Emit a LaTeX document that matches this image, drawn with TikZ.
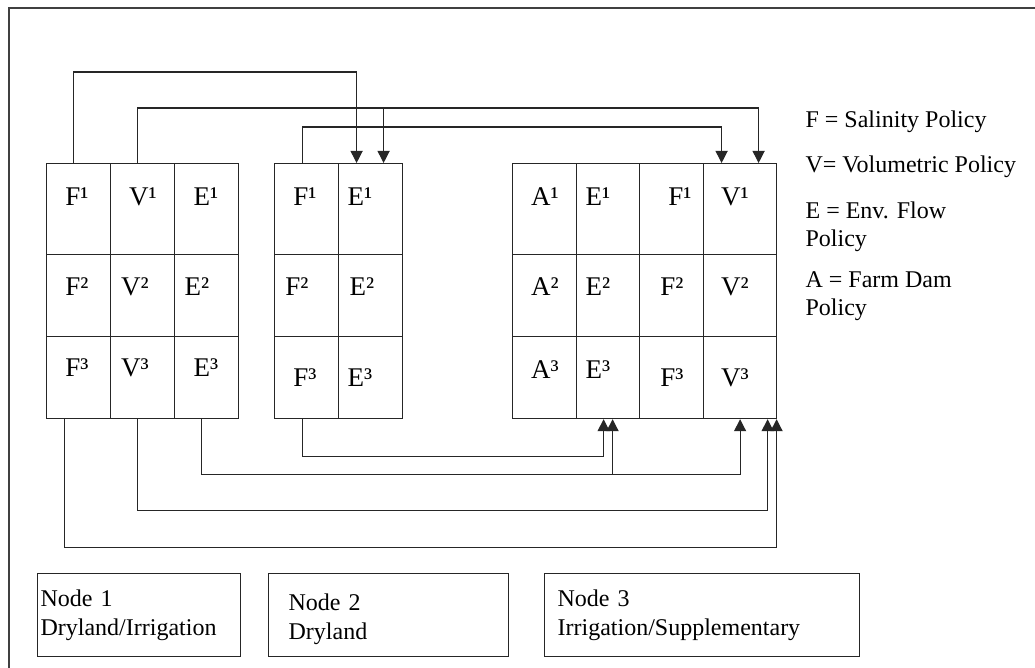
\documentclass[tikz,border=0pt]{standalone}
\usepackage{fontspec}
\setmainfont{Liberation Serif}
\usetikzlibrary{arrows.meta,calc}

\begin{document}
\begin{tikzpicture}[x=0.5pt,y=-0.5pt,line width=0.6pt,
  cell/.style 2 args={draw=black!85,anchor=north west,inner sep=0pt,
    minimum width=#1*0.5pt,minimum height=#2*0.5pt},
  tag/.style={inner sep=0pt,font=\fontsize{13.5}{16}\selectfont},
  key/.style={anchor=west,align=left,inner sep=0pt,font=\fontsize{12}{14}\selectfont},
  site/.style n args={3}{draw=black!85,anchor=north west,minimum width=#1*0.5pt,
    minimum height=83*0.5pt,inner xsep=#2,text width=#3,align=left,
    font=\fontsize{12}{14.5}\selectfont},
  flow/.style={draw=black!85,-{Triangle[width=6pt,length=6pt]}}]
  \useasboundingbox (0,0) rectangle (1035,668);
  \draw[black!75] (1035,8) -- (9,8) -- (9,668);

  % node 1 (three policies)
  \foreach \c/\x in {a/46,b/110,c/174}
    \foreach \r/\y/\h in {1/163/91,2/254/82,3/336/82}
      \node[cell={64}{\h}] (g1\c\r) at (\x,\y) {};
  \foreach \n/\x/\y/\t in {F1/77/197/F¹,V1/143/197/V¹,E1/206/197/E¹,
      F2/77/287/F²,V2/135/287/V²,E2/197/287/E²,
      F3/77/368/F³,V3/135/368/V³,E3/206/368/E³}
    \node[tag] (x1\n) at (\x,\y) {\t};

  % node 2 (two policies)
  \foreach \c/\x in {a/274,b/338}
    \foreach \r/\y/\h in {1/163/91,2/254/82,3/336/82}
      \node[cell={64}{\h}] (g2\c\r) at (\x,\y) {};
  \foreach \n/\x/\y/\t in {F1/305/197/F¹,E1/360/197/E¹,
      F2/297/287/F²,E2/362/287/E²,
      F3/305/378/F³,E3/360/378/E³}
    \node[tag] (x2\n) at (\x,\y) {\t};

  % node 3 (four policies)
  \foreach \c/\x/\w in {a/512/64,b/576/63,c/639/64,d/703/73}
    \foreach \r/\y/\h in {1/163/91,2/254/82,3/336/82}
      \node[cell={\w}{\h}] (g3\c\r) at (\x,\y) {};
  \foreach \n/\x/\y/\t in {A1/545/197/A¹,E1/598/197/E¹,F1/680/197/F¹,V1/735/197/V¹,
      A2/545/287/A²,E2/598/287/E²,F2/672/287/F²,V2/735/287/V²,
      A3/545/370/A³,E3/598/370/E³,F3/672/378/F³,V3/735/378/V³}
    \node[tag] (x3\n) at (\x,\y) {\t};

  % links over the top
  \draw[flow] ($(g1a1.north)+(-5,0)$) -- ++(0,-91) -| ($(g2b1.north)+(-14,0)$);
  \draw[flow] ($(g1b1.north)+(-5,0)$) -- ++(0,-55) -| ($(g3d1.north)+(18.5,0)$);
  \coordinate (vfork) at ($(g2b1.north)+(13,-55)$);
  \draw[flow] (vfork) -- ($(g2b1.north)+(13,0)$);
  \draw[flow] ($(g2a1.north)+(-4,0)$) -- ++(0,-36) -| ($(g3d1.north)+(-18.5,0)$);

  % links underneath
  \draw[flow] ($(g2a3.south)+(-4,0)$) -- ++(0,37) -| ($(g3b3.south)+(-4.5,0)$);
  \draw[flow] ($(g1c3.south)+(-5,0)$) -- ++(0,55) -| (g3d3.south);
  \coordinate (efork) at ($(g3b3.south)+(4.5,55)$);
  \draw[flow] (efork) -- ($(g3b3.south)+(4.5,0)$);
  \draw[flow] ($(g1b3.south)+(-5,0)$) -- ++(0,91) -| ($(g3d3.south)+(27.5,0)$);
  \draw[flow] ($(g1a3.south)+(-14,0)$) -- ++(0,128) -| ($(g3d3.south)+(36.5,0)$);

  % legend
  \node[key] (kF) at (805,122) {F = Salinity Policy};
  \node[key] (kV) at (805,167) {V= Volumetric Policy};
  \node[key] (kE) at (805,227) {E = Env. Flow\\Policy};
  \node[key] (kA) at (805,296) {A = Farm Dam\\Policy};

  % sites
  \node[site={203}{1.5pt}{98.5pt}] (n1) at (37,573) {Node 1\\Dryland/Irrigation};
  \node[site={240}{10pt}{100pt},text depth=12.5pt] (n2) at (268,573) {Node 2\\Dryland};
  \node[site={315}{6.5pt}{144.5pt}] (n3) at (544,573) {Node 3\\Irrigation/Supplementary};
\end{tikzpicture}
\end{document}
